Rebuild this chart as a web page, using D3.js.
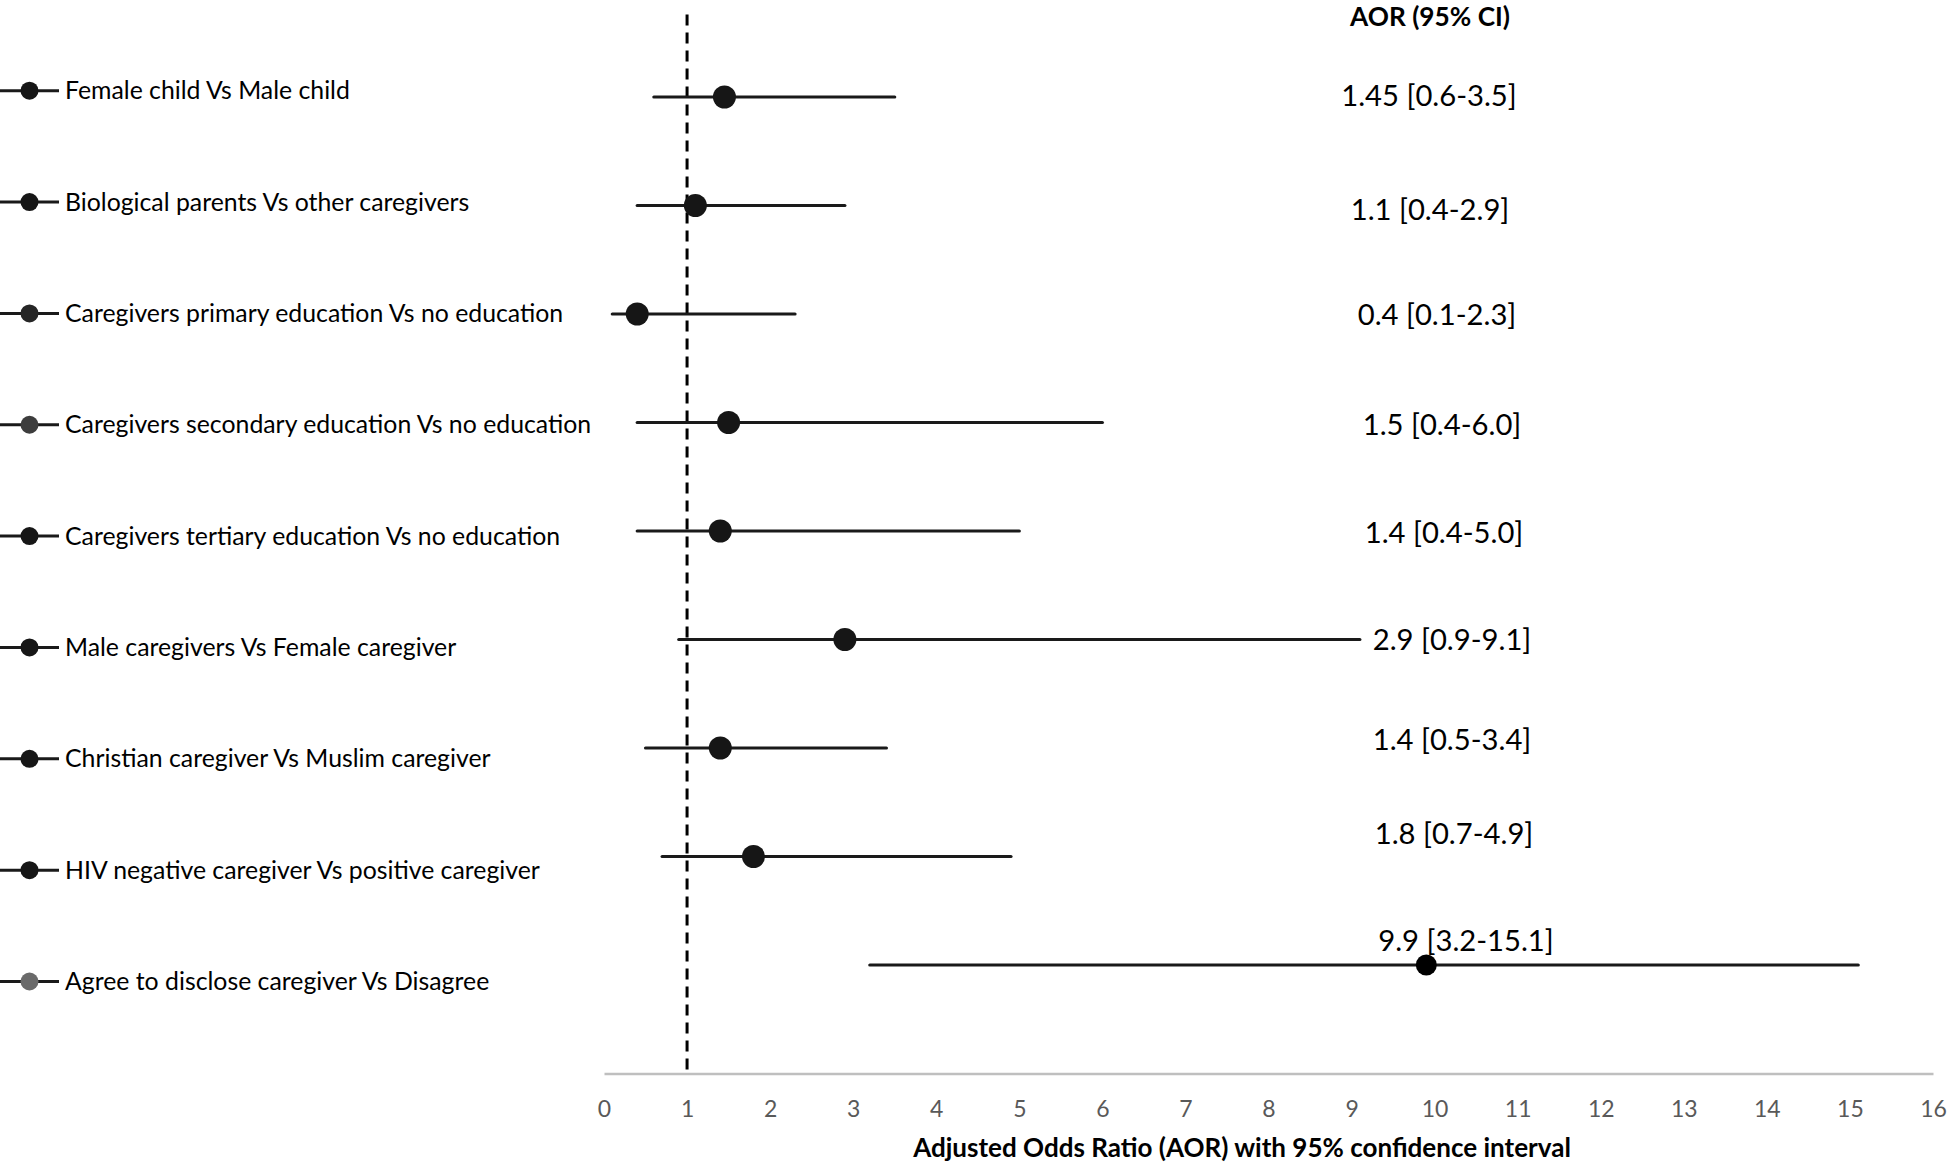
<!DOCTYPE html>
<html>
<head>
<meta charset="utf-8">
<script src="https://cdn.jsdelivr.net/npm/d3@7"></script>
<style>
  html, body { margin: 0; padding: 0; background: #ffffff; }
  svg { display: block; }
  text { font-family: Lato, "Open Sans", sans-serif; }
</style>
</head>
<body>
<script>
// ---------------- data ----------------
const categories = [
  "Female child Vs Male child",
  "Biological parents Vs other caregivers",
  "Caregivers primary education Vs no education",
  "Caregivers secondary education Vs no education",
  "Caregivers tertiary education Vs no education",
  "Male caregivers Vs Female caregiver",
  "Christian caregiver Vs Muslim caregiver",
  "HIV negative caregiver Vs positive caregiver",
  "Agree to disclose caregiver Vs Disagree"
];
const aor    = [1.45, 1.1, 0.4, 1.5, 1.4, 2.9, 1.4, 1.8, 9.9];
const ciLow  = [0.6, 0.4, 0.1, 0.4, 0.4, 0.9, 0.5, 0.7, 3.2];
const ciHigh = [3.5, 2.9, 2.3, 6.0, 5.0, 9.1, 3.4, 4.9, 15.1];
const aorLabels = [
  "1.45 [0.6-3.5]", "1.1 [0.4-2.9]", "0.4 [0.1-2.3]", "1.5 [0.4-6.0]",
  "1.4 [0.4-5.0]", "2.9 [0.9-9.1]", "1.4 [0.5-3.4]", "1.8 [0.7-4.9]", "9.9 [3.2-15.1]"
];
const xTickValues = [0,1,2,3,4,5,6,7,8,9,10,11,12,13,14,15,16];
const referenceValue = 1;
const headerText = "AOR (95% CI)";
const xAxisTitle = "Adjusted Odds Ratio (AOR) with 95% confidence interval";

// ---------------- layout / style ----------------
const W = 1947, H = 1164;
const markerFill = ["#161616","#161616","#262626","#3d3d3d","#161616","#161616","#161616","#161616","#6a6a6a"];
const pointFill  = ["#161616","#161616","#161616","#161616","#161616","#161616","#161616","#161616","#000000"];
const pointR     = [11.5,11.5,11.5,11.5,11.5,11.5,11.5,11.5,10.5];
// manual nudges of the AOR text labels (px) relative to the label column / row
const labelNudge = [[-1,-1],[0,4.5],[7,1],[12,2.5],[14,1.7],[22,0.5],[22,-8.7],[24,-23.2],[36,-24]];

const svg = d3.select("body").append("svg").attr("width", W).attr("height", H);

const x = d3.scaleLinear().domain([0, 16]).range([604, 1933]);
const y = d3.scaleLinear().domain([0, 9]).range([1073.5, 97]);
const rowVal = i => 9 - i;

// fit a text's font size to a target width
function fit(sel, target) {
  const node = sel.node();
  const fs = parseFloat(sel.attr("font-size"));
  const w = node.getComputedTextLength();
  sel.attr("font-size", (fs * target / w).toFixed(2));
}

// ---------------- x axis ----------------
const axisG = svg.append("g").attr("transform", `translate(0,${y(0)})`)
  .call(d3.axisBottom(x).tickValues(xTickValues).tickSize(0).tickFormat(d3.format("d")));
axisG.select(".domain").attr("stroke", "#bfbfbf").attr("stroke-width", 2.5);
axisG.selectAll(".tick text")
  .attr("y", 35).attr("dy", "0.35em")
  .attr("fill", "#595959").attr("font-size", 23)
  .style("font-family", "Lato, sans-serif");

// reference dashed line
svg.append("line")
  .attr("x1", x(referenceValue)).attr("x2", x(referenceValue))
  .attr("y1", y(9.76)).attr("y2", y(0))
  .attr("stroke", "#000").attr("stroke-width", 3)
  .attr("stroke-dasharray", "11,7");

// ---------------- CI lines + points ----------------
const rows = categories.map((c, i) => ({c, i, aor: aor[i], lo: ciLow[i], hi: ciHigh[i], lab: aorLabels[i]}));

svg.append("g").selectAll("line").data(rows).join("line")
  .attr("x1", d => x(d.lo)).attr("x2", d => x(d.hi))
  .attr("y1", d => y(rowVal(d.i))).attr("y2", d => y(rowVal(d.i)))
  .attr("stroke", "#1a1a1a").attr("stroke-width", 3.2).attr("stroke-linecap", "round");

svg.append("g").selectAll("circle").data(rows).join("circle")
  .attr("cx", d => x(d.aor)).attr("cy", d => y(rowVal(d.i)))
  .attr("r", d => pointR[d.i]).attr("fill", d => pointFill[d.i]);

// AOR labels
const labColX = 1430;
const labs = svg.append("g").selectAll("text").data(rows).join("text")
  .attr("x", d => labColX + labelNudge[d.i][0])
  .attr("y", d => y(rowVal(d.i)) + labelNudge[d.i][1])
  .attr("dy", "0.35em").attr("text-anchor", "middle")
  .attr("font-size", 28).attr("fill", "#000")
  .text(d => d.lab);
fit(labs.filter((d, i) => i === 3), 158.6);
labs.attr("font-size", labs.filter((d, i) => i === 3).attr("font-size"));

// header
const hdr = svg.append("text").attr("x", 1430).attr("y", 26)
  .attr("text-anchor", "middle").attr("font-weight", "bold")
  .attr("font-size", 28).text(headerText);
fit(hdr, 160);

// axis title
const ttl = svg.append("text").attr("x", 1242).attr("y", 1148).attr("dy", "0.35em")
  .attr("text-anchor", "middle").attr("font-weight", "bold")
  .attr("font-size", 24).text(xAxisTitle);
fit(ttl, 658);

// ---------------- legend (left) ----------------
const legY = i => 90.7 + i * 111.35;
const leg = svg.append("g").selectAll("g").data(rows).join("g")
  .attr("transform", d => `translate(0,${legY(d.i)})`);
leg.append("line").attr("x1", 0).attr("x2", 59).attr("y1", 0).attr("y2", 0)
  .attr("stroke", "#1a1a1a").attr("stroke-width", 3);
leg.append("circle").attr("cx", 29.5).attr("cy", 0).attr("r", 9)
  .attr("fill", d => markerFill[d.i]);
const legText = leg.append("text").attr("x", 65).attr("y", 0).attr("dy", "0.35em")
  .attr("font-size", 24).attr("fill", "#000").text(d => d.c);
fit(legText.filter((d, i) => i === 0), 285);
legText.attr("font-size", legText.filter((d, i) => i === 0).attr("font-size"));
</script>
</body>
</html>
